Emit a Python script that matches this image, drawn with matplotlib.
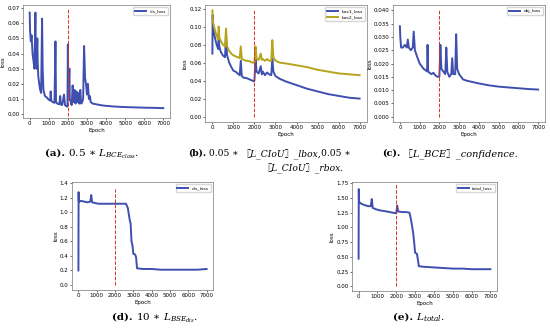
import matplotlib
matplotlib.use('Agg')
import matplotlib.pyplot as plt

# ---- data ----
ep_cls = [0, 20, 60, 100, 150, 200, 250, 300, 320, 360, 400, 420, 450, 500, 550, 600, 650, 680, 720,
          800, 900, 1000, 1080, 1100, 1130, 1200, 1300, 1350, 1380, 1450, 1550, 1600, 1630, 1700, 1800,
          1850, 1900, 1980, 2000, 2030, 2080, 2100, 2150, 2200, 2250, 2300, 2350, 2400, 2450, 2500, 2550,
          2600, 2650, 2700, 2750, 2800, 2850, 2900, 2950, 3000, 3050, 3100, 3150, 3200, 3300, 3500, 3700,
          4000, 4500, 5000, 5500, 6000, 6500, 7000]
cls_loss = [0.067, 0.055, 0.048, 0.052, 0.040, 0.035, 0.030, 0.067, 0.040, 0.030, 0.050, 0.035, 0.025,
            0.020, 0.016, 0.014, 0.063, 0.030, 0.016, 0.012, 0.011, 0.0095, 0.009, 0.015, 0.009, 0.008,
            0.0075, 0.048, 0.008, 0.007, 0.0065, 0.012, 0.0065, 0.006, 0.013, 0.006, 0.0055, 0.005, 0.046,
            0.012, 0.030, 0.010, 0.008, 0.006, 0.019, 0.008, 0.016, 0.007, 0.015, 0.008, 0.014, 0.007,
            0.016, 0.007, 0.008, 0.010, 0.045, 0.024, 0.020, 0.013, 0.020, 0.010, 0.012, 0.008, 0.007,
            0.0065, 0.006, 0.0055, 0.005, 0.0047, 0.0045, 0.0043, 0.0042, 0.004]

ep_box = [0, 15, 30, 100, 200, 280, 300, 330, 400, 500, 600, 650, 700, 800, 900, 1000, 1100, 1200,
          1300, 1350, 1400, 1500, 1600, 1700, 1800, 1900, 1980, 2000, 2050, 2100, 2200, 2300, 2350, 2400,
          2500, 2600, 2700, 2800, 2850, 2900, 3000, 3200, 3500, 4000, 4500, 5000, 5500, 6000, 6500, 7000]
box1_loss = [0.070, 0.113, 0.100, 0.090, 0.080, 0.075, 0.092, 0.078, 0.072, 0.068, 0.066, 0.088, 0.068,
             0.060, 0.055, 0.051, 0.050, 0.048, 0.046, 0.062, 0.045, 0.043, 0.043, 0.042, 0.041, 0.040,
             0.039, 0.040, 0.065, 0.050, 0.048, 0.056, 0.047, 0.050, 0.046, 0.049, 0.047, 0.046, 0.064,
             0.050, 0.045, 0.042, 0.039, 0.035, 0.031, 0.028, 0.025, 0.023, 0.021, 0.020]
box2_loss = [0.118, 0.110, 0.105, 0.098, 0.090, 0.086, 0.100, 0.088, 0.084, 0.080, 0.078, 0.098, 0.078,
             0.073, 0.070, 0.068, 0.067, 0.066, 0.065, 0.078, 0.064, 0.063, 0.062, 0.062, 0.061, 0.060,
             0.060, 0.060, 0.078, 0.064, 0.063, 0.070, 0.063, 0.064, 0.062, 0.064, 0.062, 0.062, 0.085,
             0.066, 0.062, 0.060, 0.059, 0.057, 0.055, 0.052, 0.050, 0.048, 0.047, 0.046]

ep_obj = [0, 20, 60, 150, 250, 350, 400, 450, 550, 650, 700, 760, 850, 1000, 1100, 1200, 1300, 1380,
          1400, 1430, 1500, 1600, 1700, 1800, 1900, 1980, 2000, 2050, 2100, 2200, 2300, 2350, 2400, 2500,
          2600, 2650, 2700, 2800, 2850, 2900, 3000, 3100, 3200, 3400, 3700, 4000, 4500, 5000, 5500, 6000,
          6500, 7000]
obj_loss = [0.034, 0.030, 0.026, 0.026, 0.027, 0.026, 0.029, 0.026, 0.025, 0.026, 0.032, 0.025, 0.023,
            0.020, 0.019, 0.018, 0.0175, 0.017, 0.027, 0.017, 0.0165, 0.016, 0.0165, 0.0155, 0.015, 0.015,
            0.015, 0.027, 0.018, 0.017, 0.016, 0.026, 0.017, 0.015, 0.016, 0.022, 0.016, 0.016, 0.031,
            0.018, 0.016, 0.015, 0.014, 0.0135, 0.013, 0.0125, 0.0118, 0.0113, 0.011, 0.0107, 0.0104,
            0.0102]

ep_dis = [0, 10, 20, 50, 150, 300, 500, 650, 700, 750, 900, 1100, 1500, 2000, 2300, 2600, 2700, 2750,
          2800, 2850, 2900, 2950, 3000, 3100, 3150, 3200, 3500, 4000, 4500, 5000, 5500, 6000, 6500, 7000]
dis_loss = [0.20, 1.28, 1.16, 1.15, 1.16, 1.15, 1.14, 1.15, 1.24, 1.14, 1.13, 1.12, 1.12, 1.12, 1.12,
            1.12, 1.06, 0.98, 0.90, 0.85, 0.60, 0.55, 0.43, 0.42, 0.38, 0.23, 0.22, 0.22, 0.21, 0.21, 0.21,
            0.21, 0.21, 0.22]

ep_tot = [0, 10, 20, 60, 150, 300, 500, 650, 700, 750, 900, 1100, 1500, 1800, 2000, 2050, 2100, 2300,
          2500, 2700, 2750, 2800, 2850, 2900, 2950, 3000, 3100, 3150, 3200, 3500, 4000, 4500, 5000, 5500,
          6000, 6500, 7000]
total_loss = [0.47, 1.65, 1.45, 1.42, 1.40, 1.38, 1.36, 1.36, 1.48, 1.33, 1.31, 1.29, 1.27, 1.25, 1.24,
              1.37, 1.27, 1.26, 1.26, 1.25, 1.18, 1.10, 1.00, 0.90, 0.75, 0.57, 0.55, 0.45, 0.34, 0.33,
              0.32, 0.31, 0.30, 0.30, 0.29, 0.29, 0.29]

W, H = 550, 329
fig = plt.figure(figsize=(W / 100, H / 100), dpi=100)
plt.rcParams['mathtext.fontset'] = 'dejavuserif'

blue = '#3e4fb0'
olive = '#b5a41c'


def make_ax(l, t, r, b):
    ax = fig.add_axes([l / W, 1 - b / H, (r - l) / W, (b - t) / H])
    ax.tick_params(labelsize=4, length=1.5, width=0.4, pad=1)
    for s in ax.spines.values():
        s.set_linewidth(0.5)
        s.set_color('#777777')
    ax.set_xlabel('Epoch', fontsize=4, labelpad=1)
    ax.set_ylabel('loss', fontsize=4, labelpad=1)
    ax.set_xticks([0, 1000, 2000, 3000, 4000, 5000, 6000, 7000])
    ax.set_xlim(-350, 7350)
    return ax


# (a) cls_loss
ax = make_ax(23, 5, 170, 118)
ax.plot(ep_cls, cls_loss, color=blue, lw=1.4, label='cls_loss')
ax.vlines(2000, -0.001, 0.070, colors='#e0301e', linestyles='--', lw=0.7)
ax.set_ylim(-0.0025, 0.072)
ax.set_yticks([0.00, 0.01, 0.02, 0.03, 0.04, 0.05, 0.06, 0.07])
ax.legend(loc='upper right', fontsize=3.2, handlelength=2.5)

# (b) box losses
ax = make_ax(205, 5, 367, 122)
ax.plot(ep_box, box1_loss, color=blue, lw=1.4, label='box1_loss')
ax.plot(ep_box, box2_loss, color=olive, lw=1.4, label='box2_loss')
ax.vlines(2000, 0.0, 0.12, colors='#e0301e', linestyles='--', lw=0.7)
ax.set_ylim(-0.006, 0.124)
ax.set_yticks([0.00, 0.02, 0.04, 0.06, 0.08, 0.10, 0.12])
ax.legend(loc='upper right', fontsize=3.2, handlelength=2.5)

# (c) obj_loss
ax = make_ax(393, 5, 545, 122)
ax.plot(ep_obj, obj_loss, color=blue, lw=1.4, label='obj_loss')
ax.vlines(2000, 0.0, 0.040, colors='#e0301e', linestyles='--', lw=0.7)
ax.set_ylim(-0.002, 0.042)
ax.set_yticks([0.000, 0.005, 0.010, 0.015, 0.020, 0.025, 0.030, 0.035, 0.040])
ax.legend(loc='upper right', fontsize=3.2, handlelength=2.5)

# (d) dis_loss
ax = make_ax(72, 182, 213, 290)
ax.plot(ep_dis, dis_loss, color=blue, lw=1.4, label='dis_loss')
ax.vlines(2000, 0.0, 1.32, colors='#e0301e', linestyles='--', lw=0.7)
ax.set_ylim(-0.07, 1.42)
ax.set_yticks([0.0, 0.2, 0.4, 0.6, 0.8, 1.0, 1.2, 1.4])
ax.legend(loc='upper right', fontsize=3.2, handlelength=2.5)

# (e) total_loss
ax = make_ax(352, 182, 497, 291)
ax.plot(ep_tot, total_loss, color=blue, lw=1.4, label='total_loss')
ax.vlines(2000, 0.0, 1.75, colors='#e0301e', linestyles='--', lw=0.7)
ax.set_ylim(-0.08, 1.77)
ax.set_yticks([0.00, 0.25, 0.50, 0.75, 1.00, 1.25, 1.50, 1.75])
ax.legend(loc='upper right', fontsize=3.2, handlelength=2.5)

# ---- captions: pieces placed one after another on a common baseline ----
serif = ['DejaVu Serif', 'Noto Sans CJK SC']
renderer = fig.canvas.get_renderer()


def chain(x, y, parts, fs=7.5):
    xpix = x
    for txt, w, st in parts:
        t = fig.text(xpix / W, 1 - y / H, txt, fontsize=fs, family=serif,
                     weight=w, style=st, va='baseline', ha='left')
        xpix += t.get_window_extent(renderer).width


chain(45, 156, [('(a).', 'bold', 'normal'), (r' 0.5 ∗ $L_{BCE_{class}}$.', 'normal', 'normal')])
chain(188, 156, [('(b).', 'bold', 'normal'), (' 0.05 ∗ ', 'normal', 'normal'),
                 ('〖L_CIoU〗_lbox,', 'normal', 'italic'), ('0.05 ∗', 'normal', 'normal')], fs=6.6)
chain(262, 170, [('〖L_CIoU〗_rbox.', 'normal', 'italic')], fs=6.6)
chain(382, 156, [('(c).', 'bold', 'normal'), (' 〖L_BCE〗_confidence.', 'normal', 'italic')], fs=7)
chain(112, 320, [('(d).', 'bold', 'normal'), (r' 10 ∗ $L_{BSE_{dis}}$.', 'normal', 'normal')])
chain(393, 320, [('(e).', 'bold', 'normal'), (r' $L_{total}$.', 'normal', 'normal')])

fig.savefig('out.png', dpi=100, facecolor='white')
